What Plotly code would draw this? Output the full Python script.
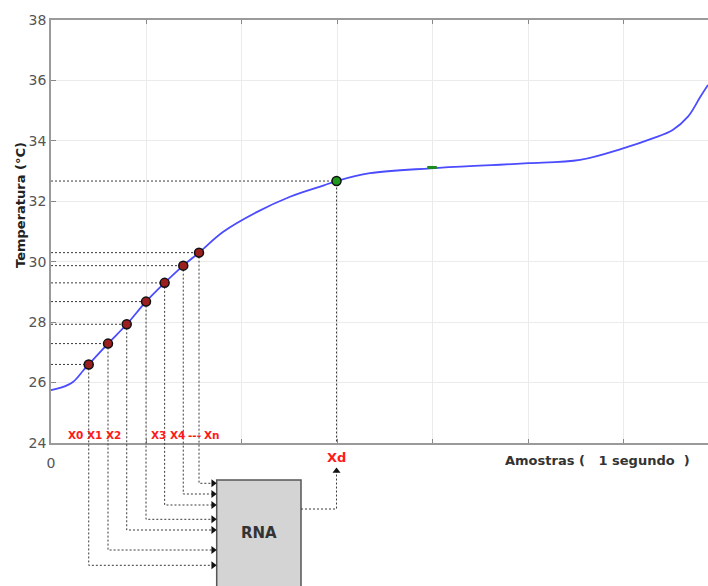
import plotly.graph_objects as go

# ---------------- data ----------------
sample_x = [0.0, 0.112, 0.233, 0.338, 0.395, 0.597, 0.793, 0.995, 1.19, 1.385, 1.55,
            1.804, 2.154, 2.503, 2.851, 2.99, 3.34, 3.97, 4.49, 4.70, 5.0, 5.54,
            5.99, 6.30, 6.51, 6.67, 6.80, 6.88]
temperature = [25.75, 25.84, 26.03, 26.40, 26.60, 27.29, 27.93, 28.68, 29.30, 29.87, 30.30,
               30.99, 31.64, 32.15, 32.52, 32.67, 32.93, 33.09, 33.18, 33.21, 33.26, 33.37,
               33.75, 34.08, 34.36, 34.80, 35.46, 35.85]

input_labels = ["X0", "X1", "X2", "X3", "X4", "---", "Xn"]
input_x = [0.395, 0.597, 0.793, 0.995, 1.19, 1.385, 1.55]
input_temp = [26.60, 27.29, 27.93, 28.68, 29.30, 29.87, 30.30]

output_label = "Xd"
output_x = 2.99
output_temp = 32.67

marker_x = [3.94, 4.04]
marker_temp = [33.12, 33.12]

x_tickvals = [0, 1, 2, 3, 4, 5, 6]
x_ticktext = ["0", "", "", "", "", "", ""]
y_range = [24, 38]
x_range = [0, 6.88]

# ---------------- layout geometry ----------------
W, H = 708, 586
PL, PT, PB = 51, 20, 443          # plot-area pixel edges (left, top, bottom)
px_per_x = (W - PL) / (x_range[1] - x_range[0])
px_per_y = (PB - PT) / (y_range[1] - y_range[0])
x2_range = [x_range[0] - PL / px_per_x, x_range[1]]
y2_range = [y_range[0] - (H - PB) / px_per_y, y_range[1] + PT / px_per_y]


def X(px):  # pixel column -> overlay x units
    return x_range[0] + (px - PL) / px_per_x


def Y(py):  # pixel row -> overlay y units
    return y_range[1] - (py - PT) / px_per_y


# arrow rows into the RNA block (for X0..Xn)
arrow_rows = [565.3, 550, 530, 519.3, 505, 494, 483.3]
box_left, box_right, box_top = 216.7, 301, 480
out_row, out_tip = 509, 468

DOT = "2px,2px"
LC = "#3a3a3a"

fig = go.Figure()

# dummy trace so the main axes exist
fig.add_trace(go.Scatter(x=[None], y=[None], xaxis="x", yaxis="y", showlegend=False))

shapes = []
# RNA box
shapes.append(dict(type="rect", xref="x2", yref="y2", x0=X(box_left), x1=X(box_right),
                   y0=Y(box_top), y1=Y(600), fillcolor="#d4d4d4",
                   line=dict(color="#555", width=1.5), layer="below"))

# dotted lines for inputs
for xi, ti, row in zip(input_x, input_temp, arrow_rows):
    fig.add_trace(go.Scatter(x=[x_range[0], xi], y=[ti, ti], mode="lines", xaxis="x2", yaxis="y2",
                             line=dict(color=LC, width=1, dash=DOT), showlegend=False, hoverinfo="skip"))
    fig.add_trace(go.Scatter(x=[xi, xi, X(box_left - 4)], y=[ti, Y(row), Y(row)], mode="lines",
                             xaxis="x2", yaxis="y2",
                             line=dict(color=LC, width=1, dash=DOT), showlegend=False, hoverinfo="skip"))

# arrowheads into box
fig.add_trace(go.Scatter(x=[X(box_left - 3.5)] * len(arrow_rows), y=[Y(r) for r in arrow_rows],
                         mode="markers", xaxis="x2", yaxis="y2",
                         marker=dict(symbol="triangle-right", size=7, color="#111"),
                         showlegend=False, hoverinfo="skip"))

# output dotted lines
fig.add_trace(go.Scatter(x=[x_range[0], output_x, output_x], y=[output_temp, output_temp, y_range[0]],
                         mode="lines", xaxis="x2", yaxis="y2",
                         line=dict(color=LC, width=1, dash=DOT), showlegend=False, hoverinfo="skip"))
fig.add_trace(go.Scatter(x=[X(box_right), output_x, output_x], y=[Y(out_row), Y(out_row), Y(out_tip + 3)],
                         mode="lines", xaxis="x2", yaxis="y2",
                         line=dict(color=LC, width=1, dash=DOT), showlegend=False, hoverinfo="skip"))
fig.add_trace(go.Scatter(x=[output_x], y=[Y(out_tip + 3)], mode="markers", xaxis="x2", yaxis="y2",
                         marker=dict(symbol="triangle-up", size=7, color="#111"),
                         showlegend=False, hoverinfo="skip"))

# temperature curve
fig.add_trace(go.Scatter(x=sample_x, y=temperature, mode="lines", xaxis="x2", yaxis="y2",
                         line=dict(color="#4b4bff", width=1.8, shape="spline", smoothing=1.0),
                         showlegend=False))
# small green marker on the plateau
fig.add_trace(go.Scatter(x=marker_x, y=marker_temp, mode="lines", xaxis="x2", yaxis="y2",
                         line=dict(color="#1c8c1c", width=3), showlegend=False))

# input points and output point
fig.add_trace(go.Scatter(x=input_x, y=input_temp, mode="markers", xaxis="x2", yaxis="y2",
                         marker=dict(size=9, color="#9b1f1f", line=dict(color="#111", width=1.5)),
                         showlegend=False))
fig.add_trace(go.Scatter(x=[output_x], y=[output_temp], mode="markers", xaxis="x2", yaxis="y2",
                         marker=dict(size=9, color="#1f9a1f", line=dict(color="#111", width=1.5)),
                         showlegend=False))

annotations = []
red = "#ff1a1a"
for i, (lab, xi) in enumerate(zip(input_labels, input_x)):
    left_side = i < 3
    annotations.append(dict(x=xi, y=y_range[0], xref="x", yref="y", text="<b>%s</b>" % lab,
                            showarrow=False, xanchor="right" if left_side else "left",
                            yanchor="bottom", xshift=-4 if left_side else 3, yshift=0,
                            font=dict(family="DejaVu Sans", size=10.5, color=red)))
annotations.append(dict(x=output_x, y=Y(457), xref="x2", yref="y2", text="<b>%s</b>" % output_label,
                        showarrow=False, xanchor="center", yanchor="middle",
                        font=dict(family="DejaVu Sans", size=13, color=red)))
annotations.append(dict(x=X((box_left + box_right) / 2), y=Y(533), xref="x2", yref="y2",
                        text="<b>RNA</b>", showarrow=False, xanchor="center", yanchor="middle",
                        font=dict(family="DejaVu Sans", size=15, color="#333")))
annotations.append(dict(x=20 / W, y=1 - 205 / H, xref="paper", yref="paper",
                        text="<b>Temperatura (°C)</b>", textangle=-90, showarrow=False,
                        xanchor="center", yanchor="middle",
                        font=dict(family="DejaVu Sans", size=13, color="#222")))
annotations.append(dict(x=597 / W, y=1 - 460 / H, xref="paper", yref="paper",
                        text="<b>Amostras (\u00a0\u00a0\u00a01 segundo\u00a0\u00a0)</b>", showarrow=False,
                        xanchor="center", yanchor="middle",
                        font=dict(family="DejaVu Sans", size=13, color="#333")))

tickfont = dict(family="DejaVu Sans", size=14, color="#555")
fig.update_layout(
    width=W, height=H, autosize=False,
    margin=dict(l=0, r=0, t=0, b=0, pad=0, autoexpand=False),
    paper_bgcolor="white", plot_bgcolor="rgba(0,0,0,0)",
    xaxis=dict(domain=[PL / W, 1], range=x_range, tickvals=x_tickvals, ticktext=x_ticktext,
               ticks="inside", ticklen=4, tickcolor="#888", showline=True, linecolor="#9a9a9a",
               linewidth=1.5, mirror="ticks", showgrid=True, gridcolor="#ebebeb", gridwidth=1,
               zeroline=False, tickfont=tickfont, ticklabelstandoff=6, anchor="y", fixedrange=True,
               automargin=False),
    yaxis=dict(domain=[1 - PB / H, 1 - PT / H], range=y_range, dtick=2, tick0=24,
               ticks="inside", ticklen=5, tickcolor="#888", showline=True, linecolor="#9a9a9a",
               linewidth=1.5, showgrid=True, gridcolor="#ebebeb", gridwidth=1, zeroline=False,
               tickfont=tickfont, anchor="x", fixedrange=True, automargin=False),
    xaxis2=dict(domain=[0, 1], range=x2_range, visible=False, anchor="y2", fixedrange=True,
                automargin=False),
    yaxis2=dict(domain=[0, 1], range=y2_range, visible=False, anchor="x2", fixedrange=True,
                automargin=False),
    shapes=shapes, annotations=annotations,
)

fig.write_html("out.html")
